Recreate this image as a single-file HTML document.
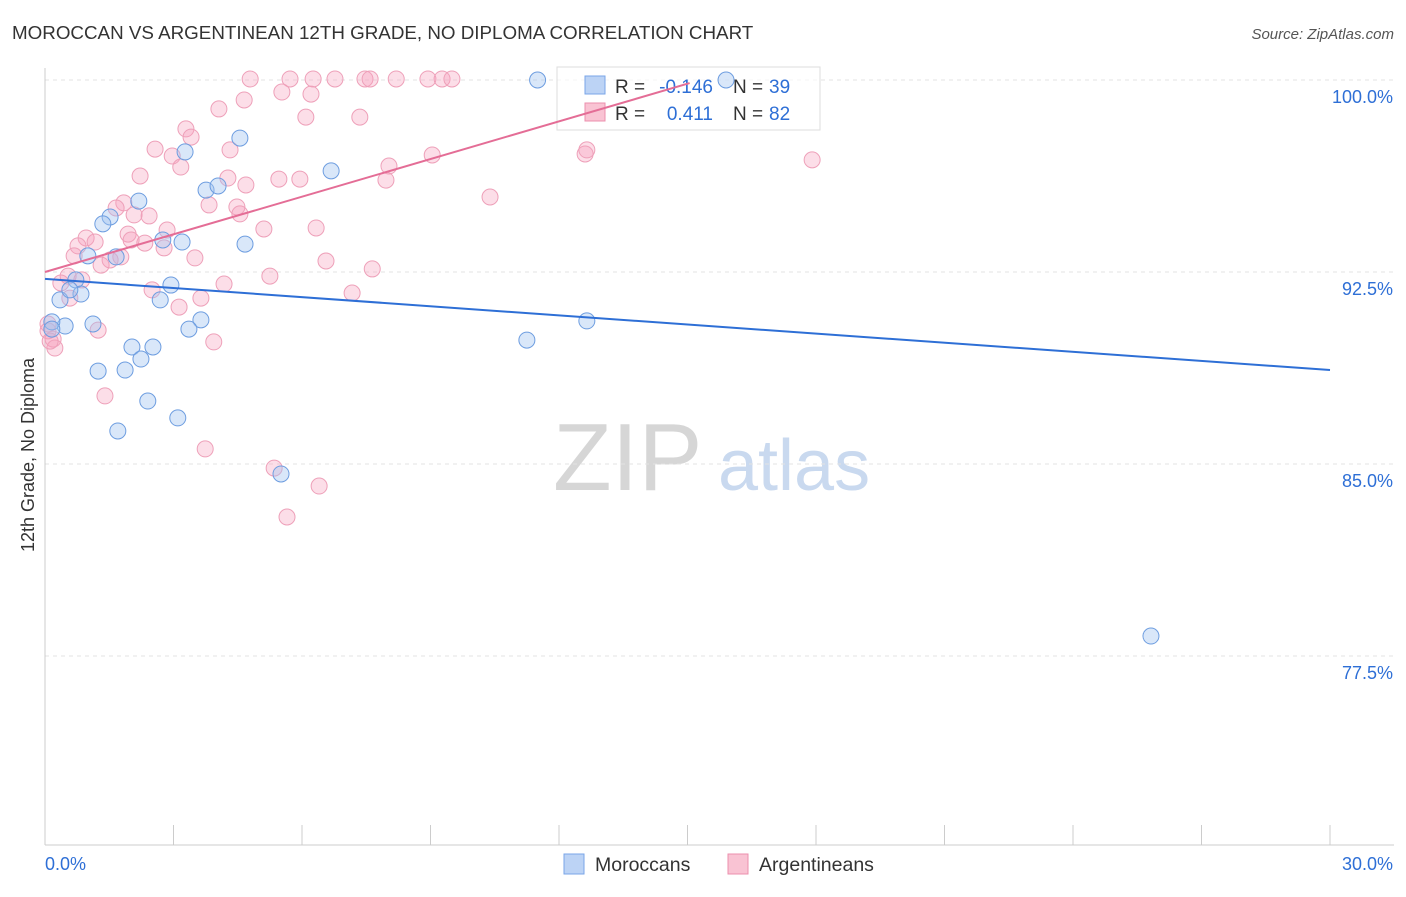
<!DOCTYPE html>
<html><head><meta charset="utf-8"><style>
body{margin:0;background:#fff;font-family:"Liberation Sans",sans-serif;}
svg text{font-family:"Liberation Sans",sans-serif;}
</style></head><body>
<svg id="chart" width="1406" height="892" xmlns="http://www.w3.org/2000/svg">
<text x="12" y="39" font-size="18.8" fill="#333">MOROCCAN VS ARGENTINEAN 12TH GRADE, NO DIPLOMA CORRELATION CHART</text>
<text x="1394" y="39" font-size="15" fill="#555" font-style="italic" text-anchor="end">Source: ZipAtlas.com</text>
<text x="553" y="490" font-size="96" fill="#d6d6d6" font-family="Liberation Serif">ZIP</text>
<text x="718" y="490" font-size="72" fill="#c9d9ef">atlas</text>
<g id="grid"></g><g id="axes"></g>
<g>
<rect x="557" y="67" width="263" height="63" fill="rgba(255,255,255,0.6)" stroke="#ddd"/>
<rect x="585" y="76" width="20" height="18" fill="#bcd3f5" stroke="#7aa6e8"/>
<rect x="585" y="103" width="20" height="18" fill="#f9c3d3" stroke="#ec8fae"/>
<text x="615" y="93" font-size="19" fill="#333">R =</text>
<text x="713" y="93" font-size="19" fill="#2e6fd6" text-anchor="end">-0.146</text>
<text x="733" y="93" font-size="19" fill="#333">N =</text>
<text x="769" y="93" font-size="19" fill="#2e6fd6">39</text>
<text x="615" y="120" font-size="19" fill="#333">R =</text>
<text x="713" y="120" font-size="19" fill="#2e6fd6" text-anchor="end">0.411</text>
<text x="733" y="120" font-size="19" fill="#333">N =</text>
<text x="769" y="120" font-size="19" fill="#2e6fd6">82</text>
</g>
<g id="pts"></g><g id="trend"></g>
<text transform="translate(34,455) rotate(-90)" font-size="18" fill="#333" text-anchor="middle">12th Grade, No Diploma</text>
<g>
<rect x="564" y="854" width="20" height="20" fill="#bcd3f5" stroke="#7aa6e8"/>
<text x="595" y="871" font-size="19.5" fill="#333">Moroccans</text>
<rect x="728" y="854" width="20" height="20" fill="#f9c3d3" stroke="#ec8fae"/>
<text x="759" y="871" font-size="19.5" fill="#333">Argentineans</text>
</g>
</svg>
<script>
const yTicks=[100,92.5,85,77.5];
const yTickLabels=["100.0%","92.5%","85.0%","77.5%"];
const xTickLabels=["0.0%","30.0%"];
const moroccanX=[11.5,15.9,4.55,3.27,6.68,2.19,3.76,4.04,1.52,1.35,4.67,3.2,2.75,1.0,1.66,0.72,2.94,0.35,0.84,0.58,2.69,3.64,3.36,1.12,0.47,0.16,0.16,2.03,2.52,2.24,1.24,1.87,2.4,3.1,1.7,5.51,11.25,12.65,25.82];
const moroccanY=[100,100,97.73,97.19,96.45,95.27,95.7,95.86,94.65,94.38,93.59,93.67,93.75,93.13,93.09,92.19,91.99,91.41,91.64,91.8,91.41,90.63,90.27,90.47,90.39,90.55,90.27,89.57,89.57,89.1,88.63,88.67,87.46,86.8,86.29,84.61,89.84,90.59,78.28];
const argentineX=[4.79,5.72,6.26,6.77,7.47,7.59,8.2,8.94,9.27,9.5,5.53,6.21,4.65,4.06,6.09,7.35,3.29,3.41,2.57,2.97,4.32,9.04,12.61,12.65,17.91,8.03,3.17,2.22,4.27,5.46,5.95,7.96,4.69,10.39,1.84,1.66,3.83,4.48,4.55,2.08,2.43,2.85,5.11,6.33,1.94,0.96,0.77,1.17,2.33,2.78,2.01,1.52,1.77,3.5,0.68,1.31,6.56,7.64,5.25,0.54,0.37,0.86,4.18,2.5,0.58,3.64,3.13,7.17,1.24,3.94,0.19,0.23,1.4,3.74,5.35,6.4,5.65,0.07,0.07,0.12];
const argentineY=[100.04,100.04,100.04,100.04,100.04,100.04,100.04,100.04,100.04,100.04,99.53,99.45,99.22,98.87,98.55,98.55,98.09,97.77,97.3,97.03,97.27,97.07,97.11,97.27,96.88,96.64,96.6,96.25,96.17,96.13,96.13,96.09,95.9,95.43,95.2,95.0,95.12,95.04,94.77,94.73,94.69,94.14,94.18,94.22,93.98,93.83,93.52,93.67,93.63,93.44,93.75,92.97,93.09,93.05,93.13,92.77,92.93,92.62,92.34,92.34,92.07,92.19,92.03,91.8,91.48,91.48,91.13,91.68,90.23,89.77,89.88,89.53,87.66,85.59,84.84,84.14,82.93,90.47,90.2,89.8];
const blueTrend=[[0,92.23],[30,88.67]];
const pinkTrend=[[0,92.5],[15.05,99.88]];
const X0=45,X1=1330,Y100=80,PXP=25.6;
const sx=v=>X0+(X1-X0)*v/30, sy=v=>Y100+(100-v)*PXP;
const NS="http://www.w3.org/2000/svg";
function mk(tag,attrs,parent){const e=document.createElementNS(NS,tag);for(const k in attrs)e.setAttribute(k,attrs[k]);document.getElementById(parent).appendChild(e);return e;}
yTicks.forEach((t,i)=>{
  const g=mk("line",{x1:X0,x2:1394,y1:sy(t),y2:sy(t),stroke:"#e3e3e3","stroke-dasharray":"4,4"},"grid");
  
  
  const l=mk("text",{x:1393,y:sy(t)+23,"font-size":18,fill:"#2e6fd6","text-anchor":"end"},"axes");
  l.textContent=yTickLabels[i];
  
  
});
const ax=mk("line",{x1:X0,x2:X0,y1:68,y2:845,stroke:"#ccc"},"axes");


const bx=mk("line",{x1:X0,x2:1394,y1:845,y2:845,stroke:"#ccc"},"axes");


for(let i=0;i<=10;i++){
  const t=mk("line",{x1:sx(i*3),x2:sx(i*3),y1:825,y2:845,stroke:"#ccc"},"axes");
  
  
}
[[0,"start",45],[30,"end",1393]].forEach((d,i)=>{
  const l=mk("text",{x:d[2],y:870,"font-size":18,fill:"#2e6fd6","text-anchor":d[1]},"axes");
  l.textContent=xTickLabels[i];
  
  
});
argentineX.forEach((v,i)=>{
  const c=mk("circle",{cx:sx(v),cy:sy(argentineY[i]),r:8,fill:"rgba(245,160,190,0.35)",stroke:"#eea0b9","stroke-width":1},"pts");
  
  
});
moroccanX.forEach((v,i)=>{
  const c=mk("circle",{cx:sx(v),cy:sy(moroccanY[i]),r:8,fill:"rgba(160,195,240,0.4)",stroke:"#6d9de0","stroke-width":1},"pts");
  
  
});
const bl=mk("line",{x1:sx(blueTrend[0][0]),y1:sy(blueTrend[0][1]),x2:sx(blueTrend[1][0]),y2:sy(blueTrend[1][1]),stroke:"#2e6fd6","stroke-width":2},"trend");


const pl=mk("line",{x1:sx(pinkTrend[0][0]),y1:sy(pinkTrend[0][1]),x2:sx(pinkTrend[1][0]),y2:sy(pinkTrend[1][1]),stroke:"#e46d96","stroke-width":2},"trend");


</script>
</body></html>
